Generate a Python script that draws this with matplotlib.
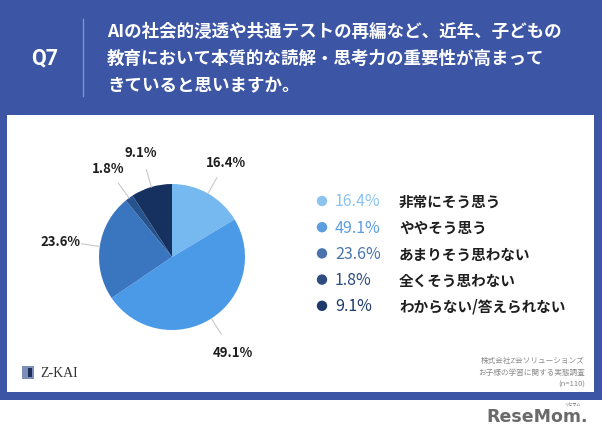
import numpy as np
import matplotlib.pyplot as plt
from matplotlib.patches import Rectangle, Circle

plt.rcParams['font.family'] = ['Noto Sans CJK JP', 'DejaVu Sans']

# ── data ──────────────────────────────────────────────────────────────────────
answers = ["非常にそう思う", "ややそう思う", "あまりそう思わない",
           "全くそう思わない", "わからない/答えられない"]
shares = [16.4, 49.1, 23.6, 1.8, 9.1]
pie_colors = ["#76B9F0", "#4B9AE7", "#3A76BF", "#26528E", "#16315F"]
key_colors = ["#8CC2EE", "#5C9DE0", "#4A73AE", "#2E4C7E", "#1E3A6B"]

title_lines = ["AIの社会的浸透や共通テストの再編など、近年、子どもの",
               "教育において本質的な読解・思考力の重要性が高まって",
               "きていると思いますか。"]
source_lines = ["株式会社Z会ソリューションズ", "お子様の学習に関する実態調査", "(n=110)"]

C_BLUE = "#3C55A5"
W, H = 602, 439

fig = plt.figure(figsize=(W / 100, H / 100), dpi=100)
fig.patch.set_facecolor("white")

# background layer in pixel coordinates
bg = fig.add_axes([0, 0, 1, 1])
bg.set_xlim(0, W)
bg.set_ylim(H, 0)
bg.axis("off")

bg.add_patch(Rectangle((0, 0), W, 401, facecolor=C_BLUE, edgecolor="none"))
bg.add_patch(Rectangle((7, 116), 587, 277, facecolor="white", edgecolor="none"))

# header
bg.text(45, 58, "Q7", ha="center", va="center", fontsize=15.5,
        fontweight="bold", family="Roboto", color="white")
bg.plot([83, 83], [20, 97], color="#7F93C8", lw=1.0)
for i, line in enumerate(title_lines):
    bg.text(107, 32 + i * 27, line, ha="left", va="center", fontsize=12.6,
            fontweight="bold", color="white")

# legend / key
for i, (lab, val, col) in enumerate(zip(answers, shares, key_colors)):
    y = 202 + i * 26.2
    bg.add_patch(Circle((322, y), 5.2, facecolor=col, edgecolor="none"))
    bg.text(335, y, f"{val}%", ha="left", va="center", fontsize=11.5,
            color=col)
    bg.text(399, y, lab, ha="left", va="center", fontsize=10.5,
            fontweight="bold", color="#1E1E1E")

# source note
for i, line in enumerate(source_lines):
    bg.text(585, 361 + i * 12, line, ha="right", va="center", fontsize=5.5,
            color="#8A8A8A")

# Z-KAI logo
bg.add_patch(Rectangle((22, 367), 12, 13, facecolor="#7D8FB8", edgecolor="none"))
bg.add_patch(Rectangle((28, 369), 4, 9, facecolor="#1F2F5C", edgecolor="none"))
bg.text(40, 374, "Z-KAI", ha="left", va="center", fontsize=10,
        family="Liberation Serif", color="#333333")

# ReseMom mark
bg.text(588, 417, "ReseMom.", ha="right", va="center", fontsize=12.5,
        fontweight="bold", family="DejaVu Sans", color="#6A6A6A")
bg.text(572, 405, "リセマム", ha="center", va="center", fontsize=3,
        color="#6A6A6A")

# ── pie ───────────────────────────────────────────────────────────────────────
cx, cy, r_px, box = 172, 258, 73, 230
pax = fig.add_axes([(cx - box / 2) / W, (H - cy - box / 2) / H, box / W, box / H])
lim = box / 2 / r_px
wedges, _ = pax.pie(shares, colors=pie_colors, startangle=90, counterclock=False,
                    radius=1, wedgeprops=dict(linewidth=0))
pax.set_xlim(-lim, lim)
pax.set_ylim(-lim, lim)
pax.set_aspect("equal")
pax.axis("off")

for w, val in zip(wedges, shares):
    ang = np.deg2rad((w.theta1 + w.theta2) / 2)
    ca, sa = np.cos(ang), np.sin(ang)
    pax.plot([1.0 * ca, 1.25 * ca], [1.0 * sa, 1.25 * sa],
             color="#C8C8C8", lw=0.8, clip_on=False)
    rl = 1.55 if abs(sa) < 0.3 or sa < -0.6 else 1.5
    pax.text(rl * ca, rl * sa, f"{val}%", ha="center", va="center",
             fontsize=9.5, fontweight="bold", color="#1E1E1E", clip_on=False)

fig.savefig("out.png", dpi=100, facecolor=fig.get_facecolor())
